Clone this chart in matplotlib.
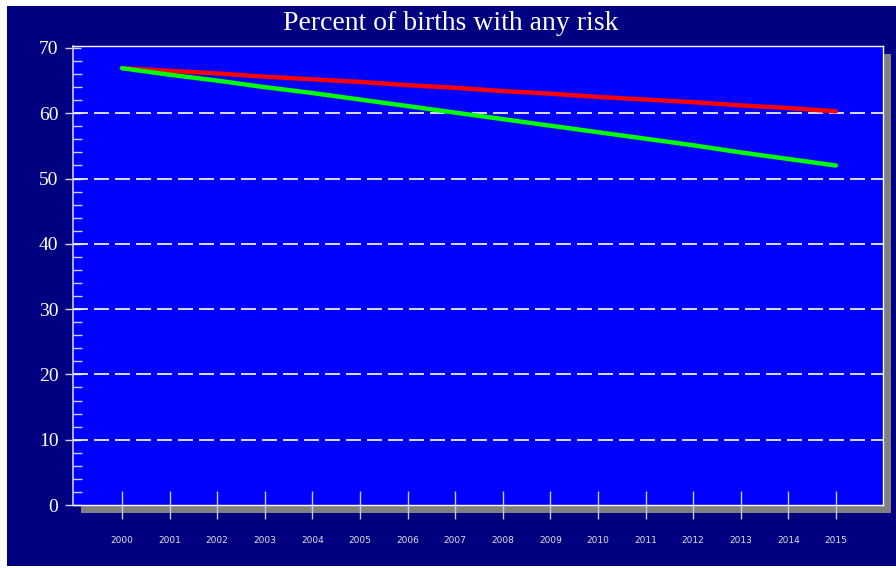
import matplotlib
matplotlib.use("Agg")
import matplotlib.pyplot as plt
from matplotlib.patches import Rectangle
from matplotlib.ticker import MultipleLocator

years = list(range(2000, 2016))
year_labels = [str(y) for y in years]
series_red = [66.9, 66.5, 66.1, 65.6, 65.2, 64.8, 64.3, 63.9, 63.4, 63.0,
              62.5, 62.1, 61.7, 61.2, 60.8, 60.3]
series_green = [66.9, 65.9, 65.0, 64.0, 63.1, 62.1, 61.1, 60.1, 59.1, 58.1,
                57.1, 56.1, 55.1, 54.0, 53.0, 52.0]
y_ticks = [0, 10, 20, 30, 40, 50, 60, 70]
title = "Percent of births with any risk"

W, H = 896, 568
fig = plt.figure(figsize=(W / 100, H / 100), dpi=100)
fig.patch.set_facecolor("white")

# navy frame
fig.patches.append(Rectangle((7 / W, 2 / H), 889 / W, 560 / H,
                             transform=fig.transFigure, facecolor="#000080",
                             edgecolor="none", zorder=0))
# shadow
fig.patches.append(Rectangle((81 / W, (H - 513) / H), 810 / W, (513 - 54) / H,
                             transform=fig.transFigure, facecolor="#808080",
                             edgecolor="none", zorder=0.5))

ax = fig.add_axes([73 / W, (H - 505) / H, (883 - 73) / W, (505 - 46) / H])
ax.set_facecolor("#0000FF")
ax.set_zorder(1)

ax.plot(years, series_red, color="#FF0000", lw=3.2, solid_capstyle="round", zorder=3)
ax.plot(years, series_green, color="#00FF00", lw=3.2, solid_capstyle="round", zorder=4)

ax.set_xlim(1998.97, 2015.99)
ax.set_ylim(0, 70.3)

for v in y_ticks[1:-1]:
    ax.axhline(v, color="white", lw=1.2, dashes=(9, 3.6), zorder=2)

ax.set_yticks(y_ticks)
ax.set_yticklabels([str(v) for v in y_ticks], family="Liberation Serif",
                   fontsize=14, color="white")
ax.yaxis.set_minor_locator(MultipleLocator(2))
ax.tick_params(axis="y", which="major", direction="inout", length=11,
               width=1, color="#d0d0ff", pad=5)
ax.tick_params(axis="y", which="minor", direction="in", length=6.5,
               width=1, color="#d0d0ff")

ax.set_xticks(years)
ax.set_xticklabels(year_labels, family="DejaVu Sans", fontsize=6.5,
                   color="#e0e0e0")
ax.tick_params(axis="x", which="major", direction="inout", length=20,
               width=1, color="#c8c8e8", pad=12.5)

for s in ["top", "right", "bottom"]:
    ax.spines[s].set_color("white")
    ax.spines[s].set_linewidth(1)
ax.spines["left"].set_color("#c8c8ff")
ax.spines["left"].set_linewidth(1.2)

fig.text(451 / W, 1 - 23 / H, title, family="Liberation Serif", fontsize=20,
         color="white", ha="center", va="center")

fig.savefig("out.png", dpi=100)
